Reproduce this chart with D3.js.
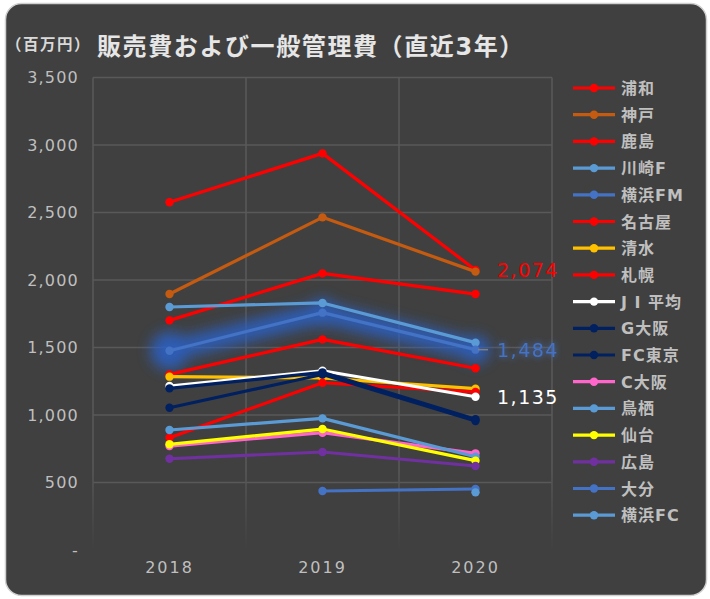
<!DOCTYPE html>
<html><head><meta charset="utf-8">
<script src="https://cdn.jsdelivr.net/npm/d3@7"></script>
<style>
html,body{margin:0;padding:0;background:#fff;}
svg{display:block;font-family:"DejaVu Sans","Noto Sans CJK JP",sans-serif;}
</style></head>
<body><svg id="c" width="710" height="599"></svg>
<script>
const years = ["2018", "2019", "2020"];
const teams = ["浦和","神戸","鹿島","川崎F","横浜FM","名古屋","清水","札幌","J I 平均","G大阪","FC東京","C大阪","鳥栖","仙台","広島","大分","横浜FC"];
const teamColors = ["#ff0000","#c55a11","#ff0000","#5b9bd5","#4472c4","#ff0000","#ffc000","#ff0000","#ffffff","#002060","#002060","#ff66cc","#5b9bd5","#ffff00","#7030a0","#4472c4","#5b9bd5"];
const urawa    = [2576, 2938, 2074];
const kobe     = [1896, 2464, 2062];
const kashima  = [1701, 2049, 1896];
const kawasaki = [1800, 1830, 1536];
const yokohamaFM = [1476, 1758, 1484];
const nagoya   = [1301, 1560, 1346];
const shimizu  = [1284, 1274, 1195];
const sapporo  = [832, 1239, 1170];
const j1avg    = [1215, 1328, 1135];
const gOsaka   = [1197, 1316, 968];
const fcTokyo  = [1054, 1300, 955];
const cOsaka   = [770, 869, 716];
const tosu     = [889, 975, 691];
const sendai   = [783, 896, 662];
const hiroshima= [676, 726, 622];
const oita     = [null, 437, 452];
const yokohamaFC = [null, null, 427];
const seriesValues = [urawa,kobe,kashima,kawasaki,yokohamaFM,nagoya,shimizu,sapporo,j1avg,gOsaka,fcTokyo,cOsaka,tosu,sendai,hiroshima,oita,yokohamaFC];
const yTicks = [0,500,1000,1500,2000,2500,3000,3500];
const labels = [{team:"浦和", text:"2,074"},{team:"横浜FM", text:"1,484"},{team:"J I 平均", text:"1,135"}];

const svg = d3.select("#c");
const defs = svg.append("defs");
const glow = defs.append("filter").attr("id","glow").attr("x","-50%").attr("y","-50%").attr("width","200%").attr("height","200%");
glow.append("feGaussianBlur").attr("stdDeviation",7);
const glowT = defs.append("filter").attr("id","glowT").attr("x","-30%").attr("y","-50%").attr("width","160%").attr("height","200%");
glowT.append("feGaussianBlur").attr("in","SourceGraphic").attr("stdDeviation",3).attr("result","b");
const m = glowT.append("feMerge");
m.append("feMergeNode").attr("in","b");
m.append("feMergeNode").attr("in","SourceGraphic");
const fade = defs.append("linearGradient").attr("id","fade").attr("gradientUnits","userSpaceOnUse")
  .attr("x1",0).attr("y1",470).attr("x2",0).attr("y2",550);
fade.append("stop").attr("offset","0").attr("stop-color","#595959");
fade.append("stop").attr("offset","1").attr("stop-color","#404040");

svg.append("rect").attr("x",5.5).attr("y",3.5).attr("width",701).attr("height",592).attr("rx",16)
  .attr("fill","#404040").attr("stroke","#d0d0d0").attr("stroke-width",1.5);

const x = d3.scaleBand().domain(years).range([93, 552]).padding(0);
const y = d3.scaleLinear().domain([0, 3500]).range([550, 77.5]);
const cx = d => x(d) + x.bandwidth()/2;

// gridlines
const g = svg.append("g");
g.selectAll(".h").data(yTicks.filter(t => t > 0)).join("line")
  .attr("x1",93).attr("x2",552).attr("y1",d=>y(d)).attr("y2",d=>y(d))
  .attr("stroke","#595959").attr("stroke-width",1.5);
const vx = years.map(d => x(d)).concat([x(years[2]) + x.bandwidth()]);
g.selectAll(".v").data(vx).join("line")
  .attr("x1",d=>d).attr("x2",d=>d).attr("y1",y(3500)).attr("y2",550)
  .attr("stroke","url(#fade)").attr("stroke-width",1.5);

// y axis labels
const yAxis = d3.axisLeft(y).tickValues(yTicks).tickSize(0).tickPadding(0)
  .tickFormat(d => d === 0 ? "-" : d3.format(",")(d));
const ya = svg.append("g").attr("transform","translate(79,0)").call(yAxis);
ya.select(".domain").remove();
ya.selectAll("text").attr("fill","#bfbfbf").attr("font-size",16).attr("letter-spacing",1.2)
  .attr("font-family","DejaVu Sans, sans-serif");

// x axis labels
const xAxis = d3.axisBottom(x).tickSize(0).tickPadding(0);
const xa = svg.append("g").attr("transform","translate(0,562)").call(xAxis);
xa.select(".domain").remove();
xa.selectAll("text").attr("fill","#bfbfbf").attr("font-size",16).attr("letter-spacing",2)
  .attr("font-family","DejaVu Sans, sans-serif");

// glow for 横浜FM
const line = d3.line().defined(d => d.v != null).x(d => cx(d.yr)).y(d => y(d.v));
const fmIdx = teams.indexOf("横浜FM");
const fmPts = years.map((yr,i) => ({yr, v: seriesValues[fmIdx][i]}));
const gl = svg.append("g").attr("filter","url(#glow)").attr("opacity",0.85);
gl.append("path").attr("d", line(fmPts)).attr("fill","none").attr("stroke","#2a62c9").attr("stroke-width",20).attr("stroke-linecap","round");
gl.selectAll("circle").data(fmPts).join("circle").attr("cx",d=>cx(d.yr)).attr("cy",d=>y(d.v)).attr("r",(d,i)=> i===0?19:14).attr("fill","#2a62c9");

// series
teams.forEach((t, i) => {
  const pts = years.map((yr, j) => ({yr, v: seriesValues[i][j]}));
  const sg = svg.append("g");
  sg.append("path").attr("d", line(pts)).attr("fill","none").attr("stroke", teamColors[i]).attr("stroke-width",3.2).attr("stroke-linejoin","round");
  sg.selectAll("circle").data(pts.filter(p => p.v != null)).join("circle")
    .attr("cx", d => cx(d.yr)).attr("cy", d => y(d.v)).attr("r",4.2).attr("fill", teamColors[i]);
});

// data labels
const lblColors = {"浦和":"#ff0000","横浜FM":"#4472c4","J I 平均":"#ffffff"};
labels.forEach(l => {
  const i = teams.indexOf(l.team);
  const v = seriesValues[i][2];
  const tx = svg.append("text").attr("x", 497).attr("y", y(v) + 7).attr("fill", lblColors[l.team])
    .attr("font-size",19).attr("letter-spacing",1.5).attr("font-family","DejaVu Sans, sans-serif").text(l.text);
  if (l.team === "横浜FM") {
    tx.attr("filter","url(#glowT)");
    svg.append("line").attr("x1",478).attr("x2",488).attr("y1",y(v)).attr("y2",y(v)).attr("stroke","#7f7f7f").attr("stroke-width",1.5);
  }
});

// legend
const lg = svg.append("g").attr("transform","translate(573,88)");
teams.forEach((t, i) => {
  const row = lg.append("g").attr("transform",`translate(0,${i*26.7})`);
  row.append("line").attr("x1",0).attr("x2",42).attr("y1",0).attr("y2",0).attr("stroke",teamColors[i]).attr("stroke-width",3.2);
  row.append("circle").attr("cx",21).attr("cy",0).attr("r",4.2).attr("fill",teamColors[i]);
  row.append("text").attr("x",48).attr("y",6).attr("fill","#bfbfbf").attr("font-size",16).attr("font-weight","bold")
    .attr("letter-spacing",1).text(t);
});

// title
svg.append("text").attr("x",6).attr("y",50).attr("fill","#d9d9d9").attr("font-size",15.5).attr("font-weight","bold")
  .attr("letter-spacing",1.5).text("（百万円）");
svg.append("text").attr("x",97).attr("y",55).attr("fill","#e6e6e6").attr("font-size",24).attr("font-weight","bold")
  .attr("letter-spacing",1.6).text("販売費および一般管理費（直近3年）");
</script></body></html>
